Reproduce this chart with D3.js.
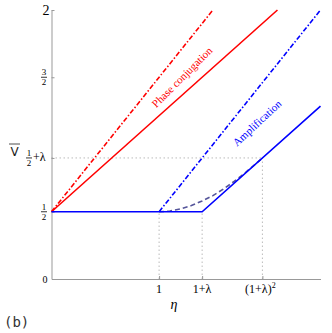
<!DOCTYPE html>
<html>
<head>
<meta charset="utf-8">
<script src="https://cdn.jsdelivr.net/npm/d3@7"></script>
<style>
  body { margin: 0; background: #fff; }
  svg { display: block; }
</style>
</head>
<body>
<div class="chart"></div>
<script>
// noise V against eta, lambda = 0.4
const lambda = 0.4;

// phase conjugation (red)
const pcDashEta = [0, 1.5],  pcDashV = [0.5, 2];
const pcSolidEta = [0, 2.1], pcSolidV = [0.5, 2];
// amplification (blue)
const ampDashEta = [1, 2.5],  ampDashV = [0.5, 2];
const ampSolidEta = [0, 1.4, 2.5], ampSolidV = [0.5, 0.5, 1.286];
// dashed curve from eta=1 to (1+lambda)^2
const curveEta = [1, 1.1, 1.2, 1.3, 1.4, 1.5, 1.6, 1.7, 1.8, 1.9, 1.96];
const curveV   = [0.5, 0.505, 0.521, 0.546, 0.58, 0.62, 0.67, 0.727, 0.79, 0.858, 0.9];

const xTicks = [1, 1.4, 1.96];
const xTickLabels = ['1', '1+λ', '(1+λ)'];
const yTicks = [0.5, 0.9, 1.5, 2];

const W = 332, H = 333;
const svg = d3.select('.chart').append('svg').attr('width', W).attr('height', H);

const x = d3.scaleLinear().domain([0, 2.5]).range([51.5, 320.5]);
const y = d3.scaleLinear().domain([0, 2]).range([279, 10]);

const serif = '"Liberation Serif", "Times New Roman", serif';

// dotted guides
const guides = [
  [[0, 0.9], [1.96, 0.9]],
  [[1, 0], [1, 0.5]],
  [[1.4, 0], [1.4, 0.5]],
  [[1.96, 0], [1.96, 0.9]]
];
svg.selectAll('.guide').data(guides).enter().append('line')
    .attr('x1', d => x(d[0][0])).attr('y1', d => y(d[0][1]))
    .attr('x2', d => x(d[1][0])).attr('y2', d => y(d[1][1]))
    .attr('stroke', '#bbb').attr('stroke-width', 1).attr('stroke-dasharray', '1.5,2.5');

// axes
let gx = svg.append('g').attr('transform', 'translate(0,' + y(0) + ')')
    .call(d3.axisBottom(x).tickValues(xTicks).tickSizeInner(-3).tickSizeOuter(0).tickFormat(() => ''));
let gy = svg.append('g').attr('transform', 'translate(' + x(0) + ',0)')
    .call(d3.axisLeft(y).tickValues(yTicks).tickSizeInner(-3).tickSizeOuter(0).tickFormat(() => ''));
[gx, gy].forEach(g => {
  g.select('.domain').attr('stroke', '#999');
  g.selectAll('.tick line').attr('stroke', '#999');
});

// lines
const line = d3.line().x(d => x(d[0])).y(d => y(d[1]));
const zip = (a, b) => a.map((v, i) => [v, b[i]]);
const series = [
  {pts: zip(pcDashEta, pcDashV), color: '#ff0000', dash: '5,2,1.5,2'},
  {pts: zip(pcSolidEta, pcSolidV), color: '#ff0000', dash: null},
  {pts: zip(ampDashEta, ampDashV), color: '#0000ff', dash: '5,2,1.5,2'},
  {pts: zip(curveEta, curveV), color: '#55559a', dash: '5,3'},
  {pts: zip(ampSolidEta, ampSolidV), color: '#0000ff', dash: null}
];
svg.selectAll('.series').data(series).enter().append('path')
    .attr('d', d => line(d.pts))
    .attr('fill', 'none')
    .attr('stroke', d => d.color)
    .attr('stroke-width', 1.6)
    .attr('stroke-dasharray', d => d.dash);

// fraction helper
function fraction(cx, cy, num, den) {
  let g = svg.append('g').attr('font-family', serif).attr('font-size', 9).attr('text-anchor', 'middle');
  g.append('text').attr('x', cx).attr('y', cy - 2).text(num);
  g.append('line').attr('x1', cx - 3).attr('x2', cx + 3).attr('y1', cy).attr('y2', cy)
      .attr('stroke', '#000').attr('stroke-width', 0.8);
  g.append('text').attr('x', cx).attr('y', cy + 8).text(den);
}

// y tick labels
svg.append('text').attr('x', 46).attr('y', y(2) + 5).attr('text-anchor', 'middle')
    .attr('font-family', serif).attr('font-size', 14).text('2');
fraction(44, y(1.5), '3', '2');
fraction(29, y(0.9), '1', '2');
svg.append('text').attr('x', 33).attr('y', y(0.9) + 3.5)
    .attr('font-family', serif).attr('font-size', 12).text('+λ');
fraction(44, y(0.5), '1', '2');
svg.append('text').attr('x', 45).attr('y', y(0) + 4).attr('text-anchor', 'middle')
    .attr('font-family', serif).attr('font-size', 10).text('0');

// x tick labels
svg.selectAll('.xlab').data(xTicks).enter().append('text')
    .attr('x', d => x(d)).attr('y', 293)
    .attr('text-anchor', 'middle')
    .attr('font-family', serif).attr('font-size', 12)
    .each(function(d, i) {
      let t = d3.select(this).text(xTickLabels[i]);
      if (i === 2) t.attr('dx', -2).append('tspan').attr('dy', -5).attr('font-size', 8).text('2');
    });

// axis titles
svg.append('text').attr('x', 174).attr('y', 309).attr('text-anchor', 'middle')
    .attr('font-family', serif).attr('font-style', 'italic').attr('font-size', 14).text('η');
svg.append('text').attr('x', 14.5).attr('y', 156).attr('text-anchor', 'middle')
    .attr('font-family', '"DejaVu Sans", sans-serif').attr('font-size', 12).attr('fill', '#222').text('V');
svg.append('line').attr('x1', 9).attr('x2', 20).attr('y1', 144).attr('y2', 144)
    .attr('stroke', '#222').attr('stroke-width', 0.8);

// curve labels
svg.append('text').attr('transform', 'translate(182,77) rotate(-45)')
    .attr('text-anchor', 'middle').attr('dy', '0.35em')
    .attr('font-family', serif).attr('font-size', 11).attr('fill', '#ff0000')
    .text('Phase conjugation');
svg.append('text').attr('transform', 'translate(257,123) rotate(-43)')
    .attr('text-anchor', 'middle').attr('dy', '0.35em')
    .attr('font-family', serif).attr('font-size', 11).attr('fill', '#0000ff')
    .text('Amplification');

// panel tag
svg.append('text').attr('x', 4).attr('y', 327)
    .attr('font-family', '"DejaVu Sans Mono", monospace').attr('font-size', 14).attr('fill', '#333')
    .text('(b)');
</script>
</body>
</html>
